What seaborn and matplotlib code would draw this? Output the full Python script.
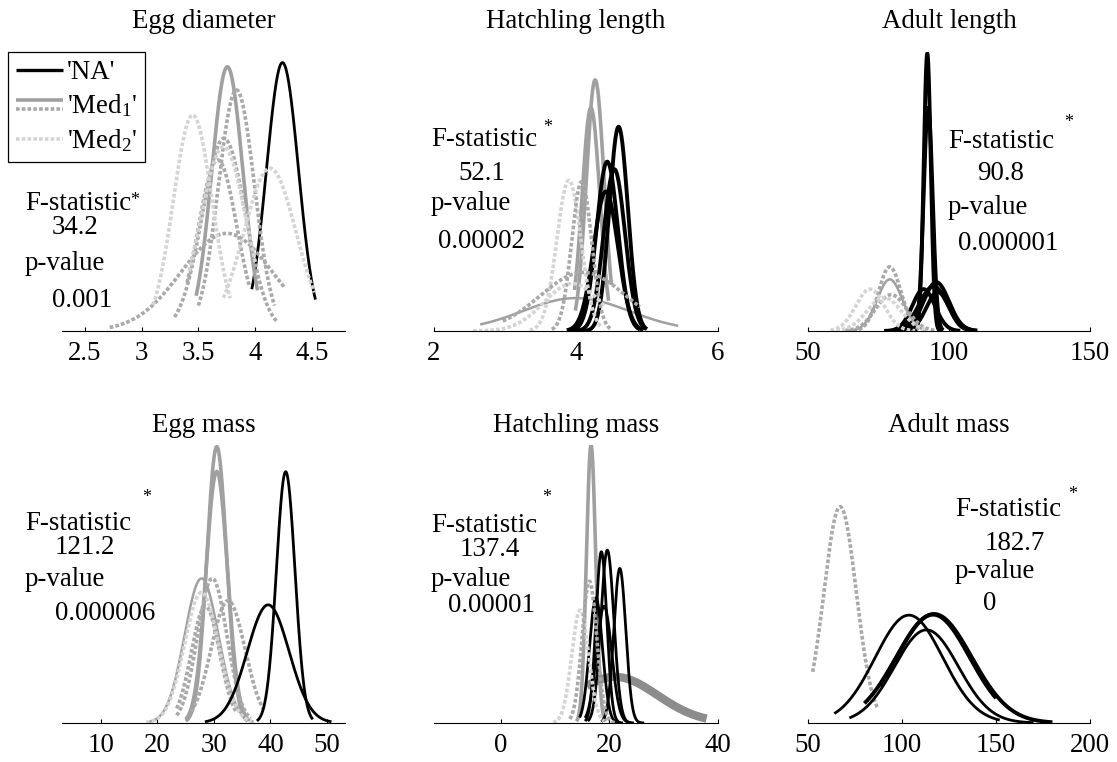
import numpy as np
import pandas as pd
import matplotlib
matplotlib.use("Agg")
import matplotlib.pyplot as plt
import seaborn as sns
from matplotlib.lines import Line2D
from matplotlib.legend_handler import HandlerBase

# ---------------------------------------------------------------- data
titles = ["Egg diameter", "Hatchling length", "Adult length",
          "Egg mass", "Hatchling mass", "Adult mass"]
f_stats = ["34.2", "52.1", "90.8", "121.2", "137.4", "182.7"]
p_values = ["0.001", "0.00002", "0.000001", "0.000006", "0.00001", "0"]
legend_labels = ["'NA'", "'Med$_1$'", "'Med$_2$'"]

x_ticks = [[2.5, 3, 3.5, 4, 4.5], [2, 4, 6], [50, 100, 150],
           [10, 20, 30, 40, 50], [0, 20, 40], [50, 100, 150, 200]]
x_tick_labels = [["2.5", "3", "3.5", "4", "4.5"], ["2", "4", "6"], ["50", "100", "150"],
                 ["10", "20", "30", "40", "50"], ["0", "20", "40"], ["50", "100", "150", "200"]]
x_limits = [(2.3, 4.79), (2, 6), (50, 150), (3.1, 53.2), (-12.35, 40), (50, 200)]

# Each panel: fitted normal curves (series, mean, sd, relative peak, x-range)
ed_series = ["NA", "Med1_bold", "Med1_dash", "Med1_dash", "Med1_dash", "Med1_dash", "Med2_dash", "Med2_dash", "Med2_dash"]
ed_mean = [4.24, 3.755, 3.835, 3.725, 3.67, 3.75, 3.45, 4.13, 3.72]
ed_sd = [0.14, 0.137, 0.158, 0.19, 0.17, 0.40, 0.17, 0.23, 0.20]
ed_peak = [0.962, 0.947, 0.864, 0.69, 0.613, 0.35, 0.774, 0.583, 0.66]
ed_lo = [3.97, 3.48, 3.50, 3.29, 3.40, 2.72, 3.10, 3.72, 3.42]
ed_hi = [4.53, 4.02, 4.17, 4.19, 3.95, 4.26, 3.78, 4.52, 4.00]

hl_series = ["Med1_bold", "Med1_bold", "Med1", "NA_bold", "NA_bold", "NA_bold", "NA_bold", "Med2_dash", "Med1_dash", "Med1_dash", "Med2_dash"]
hl_mean = [4.27, 4.21, 4.0, 4.60, 4.54, 4.44, 4.42, 3.90, 4.08, 4.10, 3.95]
hl_sd = [0.125, 0.125, 0.75, 0.13, 0.15, 0.15, 0.17, 0.17, 0.14, 0.60, 0.40]
hl_peak = [0.90, 0.80, 0.118, 0.732, 0.58, 0.607, 0.50, 0.54, 0.535, 0.21, 0.17]
hl_lo = [3.99, 3.98, 2.65, 4.05, 3.95, 3.90, 3.87, 3.35, 3.66, 2.97, 2.55]
hl_hi = [4.50, 4.46, 5.44, 5.00, 4.98, 4.90, 4.95, 4.35, 4.50, 4.90, 4.40]

al_series = ["NA_bold", "NA_bold", "NA_bold", "NA_bold", "NA_bold", "NA_bold", "Med1_dash", "Med1", "Med1_dash", "Med2_dash", "Med2_dash"]
al_mean = [92.3, 92.6, 95.5, 94.5, 91.0, 96.0, 79.0, 79.0, 79.5, 72.0, 77.0]
al_sd = [1.25, 1.6, 4.5, 5.0, 4.0, 4.0, 4.0, 4.5, 5.5, 5.0, 6.0]
al_peak = [0.995, 0.80, 0.175, 0.16, 0.15, 0.14, 0.23, 0.185, 0.13, 0.15, 0.12]
al_lo = [87, 87, 82, 80, 77, 84, 64, 65, 63, 58, 60]
al_hi = [97.5, 98, 110, 110, 104, 108, 90, 92, 95, 88, 92]

em_series = ["Med1_bold", "Med1_bold", "Med1", "Med1_dash", "Med1_dash", "Med1_dash", "Med2_dash", "NA", "NA"]
em_mean = [30.5, 30.5, 27.8, 29.7, 32.5, 28.5, 27.8, 42.7, 39.6]
em_sd = [1.75, 1.9, 3.0, 2.6, 3.0, 2.5, 3.0, 1.65, 3.7]
em_peak = [0.994, 0.905, 0.52, 0.52, 0.44, 0.42, 0.47, 0.904, 0.425]
em_lo = [25, 25, 18.5, 23.4, 26, 23.4, 18, 37.6, 28.4]
em_hi = [36, 36, 37, 36.5, 38.8, 34, 36.7, 47.5, 50.8]

hm_series = ["Med1_bold", "Med1_heavy", "NA", "NA", "NA", "NA", "NA", "Med2_dash", "Med1_dash"]
hm_mean = [16.6, 21.0, 19.6, 18.5, 21.9, 17.5, 19.0, 14.6, 16.3]
hm_sd = [0.85, 7.8, 1.2, 1.0, 1.1, 1.2, 1.4, 1.55, 1.35]
hm_peak = [1.0, 0.166, 0.622, 0.616, 0.556, 0.45, 0.42, 0.406, 0.51]
hm_lo = [13.9, 15.8, 16.0, 15.5, 18.5, 14.5, 15.5, 9.6, 12.7]
hm_hi = [19.3, 37.9, 24.5, 22.5, 26.4, 22.0, 24.0, 19.0, 21.3]

am_series = ["Med1_dash", "NA", "NA_bold", "NA", "NA_bold"]
am_mean = [67.1, 103.7, 117.0, 113.0, 116.5]
am_sd = [8.6, 18.0, 20.0, 17.0, 19.5]
am_peak = [0.778, 0.388, 0.392, 0.335, 0.39]
am_lo = [52.5, 64, 80, 72, 88]
am_hi = [86.9, 152, 180, 170, 150]

panels = [
    (ed_series, ed_mean, ed_sd, ed_peak, ed_lo, ed_hi),
    (hl_series, hl_mean, hl_sd, hl_peak, hl_lo, hl_hi),
    (al_series, al_mean, al_sd, al_peak, al_lo, al_hi),
    (em_series, em_mean, em_sd, em_peak, em_lo, em_hi),
    (hm_series, hm_mean, hm_sd, hm_peak, hm_lo, hm_hi),
    (am_series, am_mean, am_sd, am_peak, am_lo, am_hi),
]

# ---------------------------------------------------------------- styles
C_NA = "#000000"
C_MED1 = "#a0a0a0"
C_MED1D = "#a9a9a9"
C_MED2 = "#d4d4d4"
DASH = (0, (1.0, 0.6))
styles = {
    "NA": dict(color=C_NA, lw=2.0, ls="-"),
    "NA_bold": dict(color=C_NA, lw=2.8, ls="-"),
    "Med1": dict(color=C_MED1, lw=1.8, ls="-"),
    "Med1_bold": dict(color=C_MED1, lw=2.6, ls="-"),
    "Med1_heavy": dict(color="#8c8c8c", lw=6.0, ls="-"),
    "Med1_dash": dict(color=C_MED1D, lw=2.6, ls=DASH),
    "Med2_dash": dict(color=C_MED2, lw=2.6, ls=DASH),
}

sns.set_style("white")
plt.rcParams["font.family"] = ["Liberation Serif", "DejaVu Serif"]
plt.rcParams["mathtext.fontset"] = "custom"
plt.rcParams["mathtext.rm"] = "Liberation Serif"
plt.rcParams["mathtext.it"] = "Liberation Serif:italic"
plt.rcParams["text.color"] = "black"
plt.rcParams["xtick.color"] = "black"
plt.rcParams["xtick.labelcolor"] = "black"
plt.rcParams["legend.labelcolor"] = "black"
FS = 19.4

W, H = 1117, 762
fig = plt.figure(figsize=(W / 100, H / 100), dpi=100)
fig.patch.set_facecolor("white")

col_x = [(62, 345), (434, 718), (808, 1090)]
row_y = [(52, 331), (445, 723)]


def px_rect(x0, x1, y0, y1):
    return [x0 / W, 1 - y1 / H, (x1 - x0) / W, (y1 - y0) / H]


def fx(x):
    return x / W


def fy(y):
    return 1 - y / H


axes = []
for i in range(6):
    r, c = divmod(i, 3)
    ax = fig.add_axes(px_rect(col_x[c][0], col_x[c][1], row_y[r][0], row_y[r][1]))
    ax.set_facecolor("none")
    series, mean, sd, peak, lo, hi = panels[i]
    for k in range(len(series)):
        xs = np.linspace(lo[k], hi[k], 300)
        ys = peak[k] * np.exp(-0.5 * ((xs - mean[k]) / sd[k]) ** 2)
        st = styles[series[k]]
        sns.lineplot(x=xs, y=ys, ax=ax, color=st["color"], linewidth=st["lw"],
                     linestyle=st["ls"], solid_capstyle="butt", dash_capstyle="butt",
                     legend=False)
    ax.set_xlim(*x_limits[i])
    ax.set_ylim(0, 1)
    ax.set_xticks(x_ticks[i])
    ax.set_xticklabels(x_tick_labels[i], fontsize=FS, color="black")
    ax.set_yticks([])
    ax.set_xlabel("")
    ax.set_ylabel("")
    for s in ["top", "right", "left"]:
        ax.spines[s].set_visible(False)
    ax.spines["bottom"].set_color("black")
    ax.spines["bottom"].set_linewidth(0.8)
    ax.tick_params(axis="x", direction="in", length=3, width=0.8, pad=7,
                   colors="black", labelcolor="black", bottom=True)
    axes.append(ax)

# titles
title_bl = [27.5, 432]
for i in range(6):
    r, c = divmod(i, 3)
    cx = (col_x[c][0] + col_x[c][1]) / 2
    fig.text(fx(cx), fy(title_bl[r]), titles[i], ha="center", va="baseline",
             fontsize=FS, color="black")

# statistics annotations: (F left, F baseline, star x, star baseline, num left, num bl,
#                          p left, p bl, val left, val bl)
ann = [
    (25, 209.5, 130, 205, 52, 234.5, 25, 269.5, 52, 307.5),
    (431, 145.5, 543, 132, 458, 179.5, 431, 210.5, 438, 247.5),
    (948, 147.5, 1064, 127, 977, 180.5, 948, 214.5, 958, 249.5),
    (25, 530.5, 142, 502, 55, 554.5, 25, 585.5, 55, 620.5),
    (431, 532.5, 542, 502, 460, 555.5, 431, 585.5, 448, 612.5),
    (955, 515.5, 1068, 499, 985, 549.5, 955, 577.5, 983, 610.5),
]
for i, a in enumerate(ann):
    kw = dict(ha="left", va="baseline", color="black")
    fig.text(fx(a[0]), fy(a[1]), "F-statistic", fontsize=FS, **kw)
    fig.text(fx(a[2]), fy(a[3]), "*", fontsize=13, **kw)
    fig.text(fx(a[4]), fy(a[5]), f_stats[i], fontsize=FS, **kw)
    fig.text(fx(a[6]), fy(a[7]), "p-value", fontsize=FS, **kw)
    fig.text(fx(a[8]), fy(a[9]), p_values[i], fontsize=FS, **kw)


# legend with stacked lines for Med1
class LineStack:
    def __init__(self, specs):
        self.specs = specs  # list of (style, offset in font-size units)


class StackHandler(HandlerBase):
    def create_artists(self, legend, orig_handle, xdescent, ydescent, width, height,
                       fontsize, trans):
        arts = []
        for st, dy in orig_handle.specs:
            y = height / 2 - ydescent + dy * fontsize
            ln = Line2D([-xdescent, width - xdescent], [y, y], color=st["color"],
                        linewidth=st["lw"], linestyle=st["ls"],
                        solid_capstyle="butt", dash_capstyle="butt")
            ln.set_transform(trans)
            arts.append(ln)
        return arts


h_na = LineStack([(styles["NA"] | {"lw": 2.4}, 0.0)])
h_m1 = LineStack([(styles["Med1_bold"], 0.17), (styles["Med1_dash"], -0.17)])
h_m2 = LineStack([(styles["Med2_dash"], 0.0)])
leg = fig.legend([h_na, h_m1, h_m2], legend_labels,
                 handler_map={LineStack: StackHandler()},
                 loc="upper left", bbox_to_anchor=(fx(8), fy(52)),
                 bbox_transform=fig.transFigure, borderaxespad=0,
                 fontsize=FS, frameon=True, fancybox=False, framealpha=1,
                 edgecolor="black", facecolor="white", borderpad=0.3,
                 labelspacing=0.28, handlelength=1.75, handletextpad=0.15,
                 labelcolor="black")
leg.get_frame().set_linewidth(0.9)

fig.savefig("out.png", dpi=100, facecolor="white")
